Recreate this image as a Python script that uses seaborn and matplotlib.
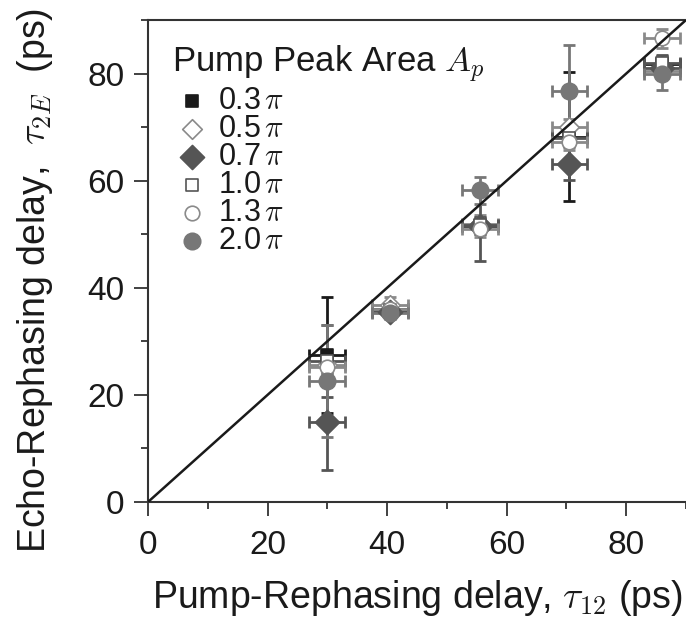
import numpy as np
import pandas as pd
import matplotlib
matplotlib.use("Agg")
import matplotlib.pyplot as plt
import seaborn as sns
from matplotlib.ticker import MultipleLocator

sns.set_theme(style="ticks")
plt.rcParams['font.family'] = ['Liberation Sans', 'DejaVu Sans']
plt.rcParams['mathtext.fontset'] = 'cm'

# ---- data ----
pump_delay = [30, 40.5, 55.5, 70.5, 86]          # tau_12 (ps)
pump_delay_err = [3, 3, 3, 3, 3]

areas = ["0.3", "0.5", "0.7", "1.0", "1.3", "2.0"]
echo_03 = [27.5, 36.0, 51.5, 68.2, 81.8]
err_03 = [10.8, 1.0, 1.5, 12.0, 1.5]
echo_05 = [25.5, 36.8, 52.0, 70.0, 80.5]
err_05 = [1.5, 1.5, 1.5, 1.5, 1.5]
echo_07 = [15.0, 35.5, 51.5, 63.2, 81.0]
err_07 = [9.0, 1.0, 6.5, 3.0, 1.5]
echo_10 = [26.3, 35.8, 51.8, 68.0, 82.0]
err_10 = [6.7, 1.0, 1.5, 1.5, 1.5]
echo_13 = [25.3, 36.0, 51.0, 67.3, 86.6]
err_13 = [1.5, 1.0, 1.5, 1.5, 1.8]
echo_20 = [22.6, 35.2, 58.2, 76.8, 80.0]
err_20 = [10.4, 1.0, 2.5, 8.5, 3.0]

series = [
    (areas[0], echo_03, err_03, dict(marker='s', face='#1a1a1a', edge='#1a1a1a', ecol='#1a1a1a', s=75)),
    (areas[1], echo_05, err_05, dict(marker='D', face='white', edge='#8a8a8a', ecol='#8a8a8a', s=100)),
    (areas[2], echo_07, err_07, dict(marker='D', face='#555555', edge='#555555', ecol='#555555', s=150)),
    (areas[3], echo_10, err_10, dict(marker='s', face='white', edge='#555555', ecol='#555555', s=75)),
    (areas[4], echo_13, err_13, dict(marker='o', face='white', edge='#8a8a8a', ecol='#8a8a8a', s=110)),
    (areas[5], echo_20, err_20, dict(marker='o', face='#777777', edge='#777777', ecol='#777777', s=140)),
]

fig = plt.figure(figsize=(6.86, 6.23), dpi=100)
ax = fig.add_axes([148/686, 1 - 502/623, 1 - 148/686, (502 - 20)/623])

# diagonal reference line
diag = pd.DataFrame({"x": [0, 90], "y": [0, 90]})
sns.lineplot(data=diag, x="x", y="y", color='#1a1a1a', lw=1.8, ax=ax, zorder=5)

for label, ys, errs, st in series:
    ax.errorbar(pump_delay, ys, xerr=pump_delay_err, yerr=errs, fmt='none',
                ecolor=st['ecol'], elinewidth=2.0, capsize=4.5, capthick=2.0, zorder=2)
for label, ys, errs, st in series:
    df = pd.DataFrame({"x": pump_delay, "y": ys})
    sns.scatterplot(data=df, x="x", y="y", marker=st['marker'], s=st['s'],
                    color=st['face'], edgecolor=st['edge'], linewidth=1.2,
                    ax=ax, zorder=3, label=label + r"$\,\pi$")

ax.set_xlim(0, 90)
ax.set_ylim(0, 90)
ax.xaxis.set_minor_locator(MultipleLocator(10))
ax.yaxis.set_minor_locator(MultipleLocator(10))
ax.set_xticks([0, 20, 40, 60, 80])
ax.set_yticks([0, 20, 40, 60, 80])

for side in ['left', 'bottom', 'top']:
    ax.spines[side].set_color('#333333')
    ax.spines[side].set_linewidth(1.5)
ax.spines['right'].set_visible(False)

ax.tick_params(axis='both', which='major', length=10, width=1.3, color='#333333',
               labelsize=24, labelcolor='#1a1a1a')
ax.tick_params(axis='both', which='minor', length=5, width=1.3, color='#333333')
ax.tick_params(axis='x', which='major', pad=10)
ax.tick_params(axis='y', which='major', pad=7)

ax.set_xlabel(r"Pump-Rephasing delay, $\tau_{12}$ (ps)", fontsize=27, color='#1a1a1a')
ax.set_ylabel(r"Echo-Rephasing delay,  $\tau_{2E}$  (ps)", fontsize=27, color='#1a1a1a')
ax.xaxis.set_label_coords(0.5, -0.158)
ax.yaxis.set_label_coords(-0.172, 0.46)

leg = ax.legend(title=r"Pump Peak Area $A_p$", loc='upper left',
                bbox_to_anchor=(0.045, 0.95), frameon=False, fontsize=22,
                title_fontsize=25, labelspacing=-0.07, handletextpad=0.2,
                handlelength=1.3, borderpad=0, borderaxespad=0)
leg._legend_box.align = "left"
leg._legend_box.sep = 1
leg.get_title().set_color('#1a1a1a')
for t in leg.get_texts():
    t.set_color('#1a1a1a')

fig.savefig("out.png", dpi=100)
